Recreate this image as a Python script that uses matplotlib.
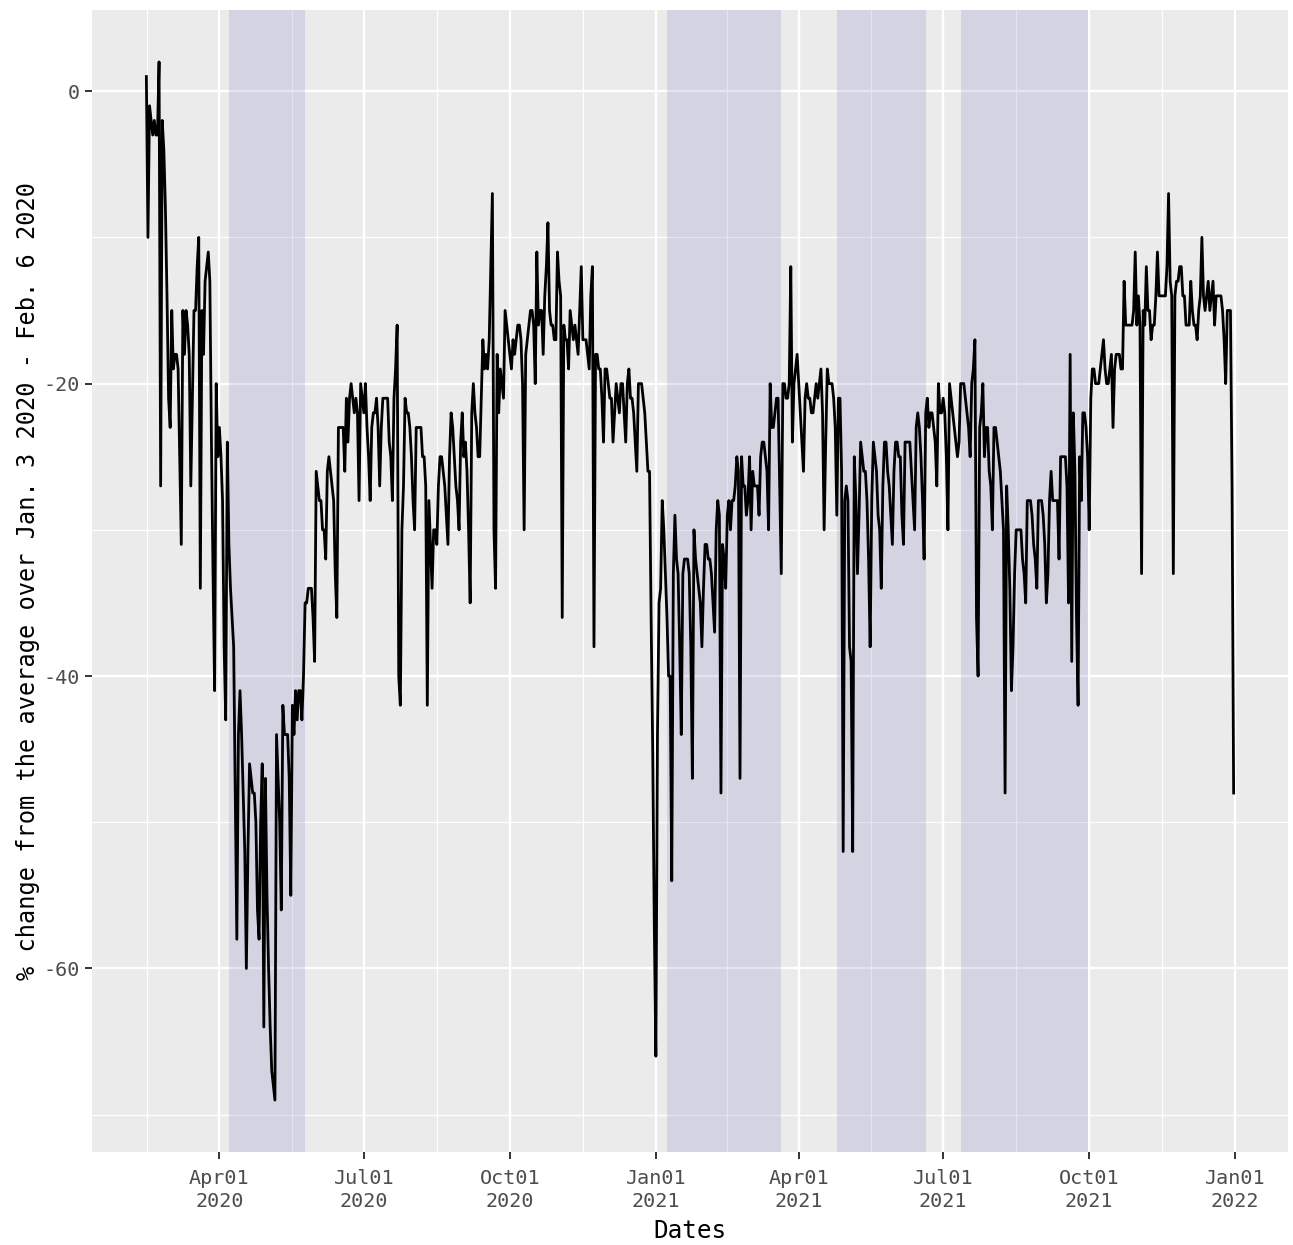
import datetime as dt
import matplotlib
matplotlib.use("Agg")
import matplotlib.pyplot as plt
import matplotlib.dates as mdates
from matplotlib import font_manager
import numpy as np

# first day of the series, values are daily, one row per week (Sat..Fri)
start_date = dt.date(2020, 2, 15)
mobility = [
    1, -10, -1, -2, -3, -2, -3,
    -3, 2, -27, -2, -4, -8, -14,
    -21, -23, -15, -19, -18, -18, -19,
    -25, -31, -15, -18, -15, -16, -18,
    -27, -21, -15, -15, -12, -10, -34,
    -15, -18, -13, -12, -11, -13, -24,
    -33, -41, -20, -25, -23, -25, -28,
    -38, -43, -24, -31, -34, -36, -38,
    -48, -58, -44, -41, -44, -48, -52,
    -60, -52, -46, -47, -48, -48, -50,
    -56, -58, -50, -46, -64, -47, -55,
    -60, -64, -67, -68, -69, -44, -47,
    -50, -56, -42, -44, -44, -44, -47,
    -55, -42, -44, -41, -43, -41, -41,
    -43, -40, -35, -35, -34, -34, -34,
    -36, -39, -26, -27, -28, -28, -30,
    -30, -32, -26, -25, -26, -27, -28,
    -33, -36, -23, -23, -23, -23, -26,
    -21, -24, -21, -20, -21, -22, -21,
    -22, -28, -20, -21, -22, -20, -23,
    -25, -28, -23, -22, -22, -21, -23,
    -27, -23, -21, -21, -21, -21, -24,
    -25, -28, -21, -19, -16, -40, -42,
    -30, -27, -21, -22, -22, -23, -25,
    -28, -30, -23, -23, -23, -23, -25,
    -25, -27, -42, -28, -31, -34, -30,
    -30, -31, -27, -25, -25, -26, -27,
    -29, -31, -25, -22, -23, -25, -27,
    -28, -30, -24, -22, -25, -24, -26,
    -30, -35, -22, -20, -22, -23, -25,
    -25, -21, -17, -19, -18, -19, -17,
    -12, -7, -30, -34, -18, -22, -19,
    -20, -21, -15, -16, -17, -18, -19,
    -17, -18, -17, -16, -16, -17, -20,
    -30, -18, -17, -16, -15, -15, -16,
    -20, -11, -16, -15, -15, -18, -14,
    -12, -9, -15, -16, -16, -17, -17,
    -11, -13, -14, -36, -16, -17, -17,
    -19, -15, -16, -17, -16, -17, -18,
    -15, -12, -17, -17, -17, -18, -19,
    -14, -12, -38, -18, -18, -19, -19,
    -21, -24, -19, -19, -20, -21, -21,
    -24, -22, -20, -21, -22, -20, -20,
    -22, -24, -20, -19, -21, -21, -22,
    -24, -26, -20, -20, -20, -21, -22,
    -24, -26, -26, -36, -45, -57, -66,
    -44, -35, -34, -28, -30, -33, -36,
    -40, -40, -54, -33, -29, -32, -33,
    -38, -44, -33, -32, -32, -32, -33,
    -38, -47, -30, -32, -33, -34, -35,
    -38, -34, -31, -31, -32, -32, -33,
    -35, -37, -30, -28, -29, -48, -31,
    -32, -34, -29, -28, -30, -28, -28,
    -27, -25, -26, -47, -25, -27, -27,
    -29, -28, -25, -30, -26, -27, -27,
    -27, -29, -25, -24, -24, -25, -26,
    -30, -20, -23, -23, -22, -21, -21,
    -27, -33, -20, -20, -21, -21, -20,
    -12, -24, -20, -19, -18, -20, -22,
    -24, -26, -21, -20, -21, -21, -22,
    -22, -21, -20, -21, -20, -19, -22,
    -30, -24, -19, -20, -20, -20, -21,
    -23, -29, -21, -21, -26, -52, -28,
    -27, -28, -38, -39, -52, -25, -28,
    -33, -29, -24, -25, -26, -26, -28,
    -32, -38, -28, -24, -25, -26, -29,
    -30, -34, -27, -24, -24, -26, -27,
    -29, -31, -26, -24, -24, -25, -25,
    -29, -31, -24, -24, -24, -24, -26,
    -28, -30, -23, -22, -23, -25, -28,
    -32, -22, -21, -23, -22, -22, -23,
    -24, -27, -20, -22, -22, -21, -22,
    -25, -30, -20, -21, -22, -23, -24,
    -25, -24, -20, -20, -20, -21, -22,
    -23, -25, -20, -19, -17, -36, -40,
    -23, -22, -20, -25, -23, -23, -26,
    -27, -30, -23, -23, -24, -25, -26,
    -28, -30, -48, -27, -30, -34, -41,
    -38, -33, -30, -30, -30, -30, -32,
    -33, -35, -28, -28, -28, -29, -31,
    -32, -34, -28, -28, -28, -29, -31,
    -35, -33, -28, -26, -28, -28, -28,
    -28, -32, -25, -25, -25, -25, -27,
    -35, -18, -39, -22, -26, -36, -42,
    -25, -28, -22, -22, -23, -25, -30,
    -21, -19, -19, -20, -20, -20, -19,
    -18, -17, -19, -20, -20, -19, -18,
    -23, -19, -18, -18, -18, -19, -19,
    -13, -16, -16, -16, -16, -16, -15,
    -11, -16, -14, -16, -33, -15, -16,
    -12, -15, -15, -17, -16, -16, -14,
    -11, -14, -14, -14, -14, -14, -12,
    -7, -13, -14, -33, -14, -13, -13,
    -12, -12, -14, -14, -16, -16, -16,
    -13, -15, -16, -16, -17, -15, -14,
    -10, -14, -15, -14, -13, -15, -14,
    -13, -16, -14, -14, -14, -14, -15,
    -17, -20, -15, -15, -15, -27, -48,
]

# states of emergency (shaded)
emergency_start = ["2020-04-07", "2021-01-08", "2021-04-25", "2021-07-12"]
emergency_end = ["2020-05-25", "2021-03-21", "2021-06-20", "2021-09-30"]

x_breaks = ["2020-01-01", "2020-04-01", "2020-07-01", "2020-10-01", "2021-01-01",
            "2021-04-01", "2021-07-01", "2021-10-01", "2022-01-01"]
y_major = [0, -20, -40, -60]
y_minor = [-10, -30, -50, -70]

names = {f.name for f in font_manager.fontManager.ttflist}
family = "Noto Sans Mono CJK JP" if "Noto Sans Mono CJK JP" in names else "DejaVu Sans Mono"
plt.rcParams["font.family"] = [family, "DejaVu Sans"]
plt.rcParams["axes.unicode_minus"] = False

dates = [start_date + dt.timedelta(days=i) for i in range(len(mobility))]
xnum = mdates.date2num(dates)
values = np.array(mobility)

fig = plt.figure(figsize=(12.93, 12.45), dpi=100)
ax = fig.add_axes([92 / 1293, 1 - 1152 / 1245, (1288 - 92) / 1293, (1152 - 10) / 1245])
ax.set_facecolor("#EBEBEB")
for s in ax.spines.values():
    s.set_visible(False)

brk = mdates.date2num([dt.date.fromisoformat(d) for d in x_breaks])
minor_x = (brk[:-1] + brk[1:]) / 2
for v in minor_x:
    ax.axvline(v, color="white", lw=0.9, zorder=0)
for v in brk:
    ax.axvline(v, color="white", lw=1.7, zorder=0)
for v in y_minor:
    ax.axhline(v, color="white", lw=0.9, zorder=0)
for v in y_major:
    ax.axhline(v, color="white", lw=1.7, zorder=0)

for a, b in zip(emergency_start, emergency_end):
    ax.axvspan(mdates.datestr2num(a), mdates.datestr2num(b),
               color=(115 / 255, 115 / 255, 190 / 255), alpha=0.2, lw=0, zorder=1)

ax.plot(xnum, values, color="black", lw=2.0, zorder=2)

ax.set_xticks(brk)
ax.xaxis.set_major_formatter(mdates.DateFormatter("%b%d\n%Y"))
ax.set_yticks(y_major)

# ggplot style 5% expansion (after ticks so they don't widen the view)
xpad = 0.05 * (xnum[-1] - xnum[0])
ax.set_xlim(xnum[0] - xpad, xnum[-1] + xpad)
ypad = 0.05 * (values.max() - values.min())
ax.set_ylim(values.min() - ypad, values.max() + ypad)

ax.tick_params(axis="both", colors="#333333", length=5, width=1.4,
               labelcolor="#4D4D4D", labelsize=14.5)
ax.tick_params(axis="x", pad=7)
for lab in ax.get_xticklabels():
    lab.set_linespacing(1.3)

ax.set_xlabel("Dates", fontsize=17.5, labelpad=6)
ax.set_ylabel("% change from the average over Jan. 3 2020 - Feb. 6 2020", fontsize=17, labelpad=3)

fig.savefig("out.png", dpi=100)
